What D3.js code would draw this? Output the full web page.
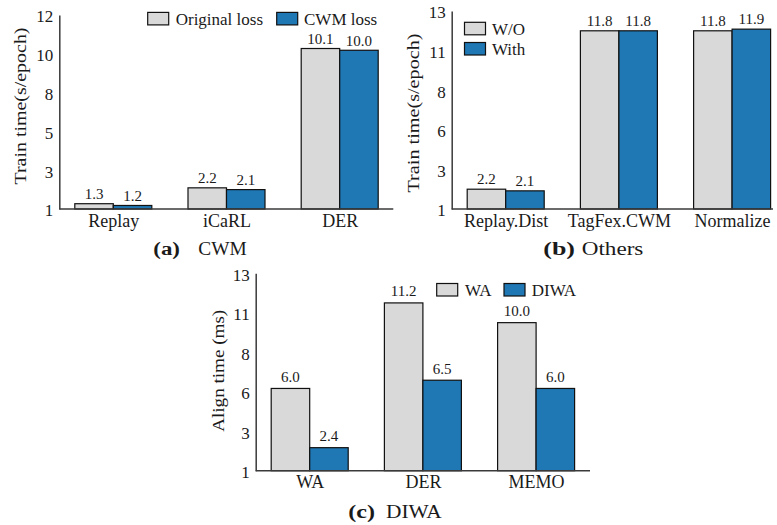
<!DOCTYPE html>
<html>
<head>
<meta charset="utf-8">
<script src="https://cdn.jsdelivr.net/npm/d3@7"></script>
<style>
  html, body { margin: 0; padding: 0; background: #fff; }
  svg { display: block; }
  text { font-family: "Liberation Serif", "Times New Roman", serif; fill: #1a1a1a; }
</style>
</head>
<body>
<svg id="chart" width="777" height="525"></svg>
<script>
// ---------- DATA ----------
// Panel (a) CWM
const categoriesA = ["Replay", "iCaRL", "DER"];
const seriesNamesA = ["Original loss", "CWM loss"];
const originalLoss = [1.3, 2.2, 10.1];
const cwmLoss = [1.2, 2.1, 10.0];
const yTicksA = [1, 3.2, 5.4, 7.6, 9.8, 12];
const yTickLabelsA = ["1", "3", "5", "8", "10", "12"];

// Panel (b) Others
const categoriesB = ["Replay.Dist", "TagFex.CWM", "Normalize"];
const seriesNamesB = ["W/O", "With"];
const withoutVals = [2.2, 11.8, 11.8];
const withVals = [2.1, 11.8, 11.9];
const yTicksB = [1, 3.4, 5.8, 8.2, 10.6, 13];
const yTickLabelsB = ["1", "3", "6", "8", "11", "13"];

// Panel (c) DIWA
const categoriesC = ["WA", "DER", "MEMO"];
const seriesNamesC = ["WA", "DIWA"];
const waVals = [6.0, 11.2, 10.0];
const diwaVals = [2.4, 6.5, 6.0];
const yTicksC = [1, 3.4, 5.8, 8.2, 10.6, 13];
const yTickLabelsC = ["1", "3", "6", "8", "11", "13"];

// ---------- STYLE ----------
const GRAY = "#d9d9d9";
const BLUE = "#1f77b4";
const AXIS = "#3a3a3a";

const svg = d3.select("#chart");

function drawPanel(cfg) {
  const g = svg.append("g");
  const y = d3.scaleLinear().domain(cfg.yDomain).range([cfg.yBot, cfg.yTop]);
  const x = d3.scalePoint().domain(cfg.categories)
    .range([cfg.x0 + 54, cfg.x0 + 280.4]);
  const bw = 38.5;
  const series = [cfg.s1, cfg.s2];
  const colors = [GRAY, BLUE];

  // bars
  series.forEach((vals, si) => {
    g.selectAll(null).data(vals).enter().append("rect")
      .attr("x", (d, i) => x(cfg.categories[i]) + (si === 0 ? -bw : 0))
      .attr("y", d => y(d))
      .attr("width", bw)
      .attr("height", d => y(cfg.yDomain[0]) - y(d))
      .attr("fill", colors[si])
      .attr("stroke", "#111")
      .attr("stroke-width", 1.2);
    g.selectAll(null).data(vals).enter().append("text")
      .attr("x", (d, i) => x(cfg.categories[i]) + (si === 0 ? -bw / 2 : bw / 2))
      .attr("y", d => y(d) - cfg.labelGap)
      .attr("text-anchor", "middle")
      .attr("font-size", 15)
      .text(d => d.toFixed(1));
  });

  // y axis
  const yAxis = d3.axisLeft(y).tickValues(cfg.yTicks).tickSize(0).tickPadding(6)
    .tickFormat((d, i) => cfg.yTickLabels[i]);
  const ya = g.append("g").attr("transform", `translate(${cfg.x0},0)`).call(yAxis);
  ya.select(".domain").attr("stroke", AXIS).attr("stroke-width", 1.5);
  ya.selectAll(".tick text").attr("font-size", 17)
    .attr("font-family", "Liberation Serif").attr("fill", "#1a1a1a").attr("dy", "0.4em");

  // x axis line
  g.append("line")
    .attr("x1", cfg.x0).attr("x2", cfg.x1)
    .attr("y1", cfg.yBot).attr("y2", cfg.yBot)
    .attr("stroke", AXIS).attr("stroke-width", 1.5);
  const xAxis = d3.axisBottom(x).tickSize(0).tickPadding(5);
  const xa = g.append("g").attr("transform", `translate(0,${cfg.yBot})`).call(xAxis);
  xa.select(".domain").remove();
  xa.selectAll(".tick text").attr("font-size", 18)
    .attr("font-family", "Liberation Serif").attr("fill", "#1a1a1a")
    .attr("dy", null).attr("y", 17.8);

  // y label
  g.append("text")
    .attr("transform", `translate(${cfg.ylx},${cfg.yly}) rotate(-90)`)
    .attr("text-anchor", "middle")
    .attr("dy", "0.35em")
    .attr("font-size", 17.5)
    .attr("textLength", cfg.ylLen)
    .attr("lengthAdjust", "spacingAndGlyphs")
    .text(cfg.yLabel);

  // legend
  cfg.legend.forEach((L, i) => {
    g.append("rect")
      .attr("x", L.px).attr("y", L.py)
      .attr("width", 21).attr("height", 12.5)
      .attr("fill", colors[i]).attr("stroke", "#111").attr("stroke-width", 1.2);
    g.append("text")
      .attr("x", L.tx).attr("y", L.py + 12.5)
      .attr("font-size", 17)
      .text(cfg.seriesNames[i]);
  });

  // caption
  g.append("text")
    .attr("x", cfg.cap.x1).attr("y", cfg.cap.y)
    .attr("font-size", 18).attr("font-weight", "bold")
    .attr("textLength", cfg.cap.l1).attr("lengthAdjust", "spacingAndGlyphs")
    .text(cfg.cap.t1);
  g.append("text")
    .attr("x", cfg.cap.x2).attr("y", cfg.cap.y)
    .attr("font-size", 18)
    .attr("textLength", cfg.cap.l2).attr("lengthAdjust", "spacingAndGlyphs")
    .text(cfg.cap.t2);
}

drawPanel({
  categories: categoriesA, s1: originalLoss, s2: cwmLoss, seriesNames: seriesNamesA,
  yDomain: [1, 12], yTicks: yTicksA, yTickLabels: yTickLabelsA,
  x0: 59.3, x1: 393.3, yTop: 15, yBot: 209, labelGap: 4.5,
  yLabel: "Train time(s/epoch)", ylx: 20, yly: 106, ylLen: 157,
  legend: [{px: 147.7, py: 12.4, tx: 175.7}, {px: 276.7, py: 12.4, tx: 304}],
  cap: {t1: "(a)", x1: 153.3, l1: 26.7, t2: "CWM", x2: 198.3, l2: 48.4, y: 255}
});

drawPanel({
  categories: categoriesB, s1: withoutVals, s2: withVals, seriesNames: seriesNamesB,
  yDomain: [1, 13], yTicks: yTicksB, yTickLabels: yTickLabelsB,
  x0: 451.7, x1: 773, yTop: 11, yBot: 209, labelGap: 4.8,
  yLabel: "Train time(s/epoch)", ylx: 413, yly: 113, ylLen: 159,
  legend: [{px: 464.5, py: 22.3, tx: 492}, {px: 464.5, py: 42.5, tx: 492}],
  cap: {t1: "(b)", x1: 543.3, l1: 31.7, t2: "Others", x2: 581.7, l2: 61.7, y: 255}
});

drawPanel({
  categories: categoriesC, s1: waVals, s2: diwaVals, seriesNames: seriesNamesC,
  yDomain: [1, 13], yTicks: yTicksC, yTickLabels: yTickLabelsC,
  x0: 255.7, x1: 590, yTop: 273.3, yBot: 470.7, labelGap: 6.5,
  yLabel: "Align time (ms)", ylx: 218.3, yly: 370.8, ylLen: 122,
  legend: [{px: 436.7, py: 283.5, tx: 465}, {px: 504, py: 283.5, tx: 531.7}],
  cap: {t1: "(c)", x1: 348.3, l1: 26.7, t2: "DIWA", x2: 386, l2: 55.7, y: 518.3}
});
</script>
</body>
</html>
